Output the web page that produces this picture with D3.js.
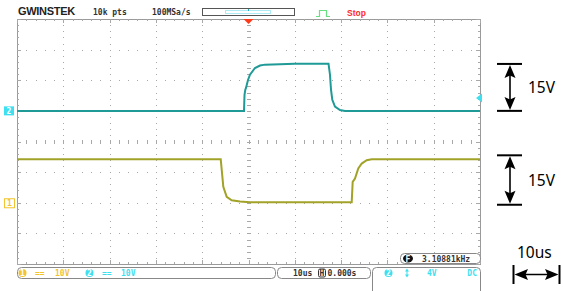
<!DOCTYPE html>
<html><head><meta charset="utf-8">
<script src="https://cdn.jsdelivr.net/npm/d3@7"></script>
<style>body{margin:0;background:#fff}svg{display:block}</style>
</head><body>
<svg id="c" width="563" height="291"></svg>
<script>
// ---- data ----
// time in microseconds (10us/div), voltage in volts (10V/div)
const ch2Time = [-50, -0.97, -0.86, -0.69, -0.54, -0.11, 0.32, 1.40, 2.48, 3.56, 10, 17.28, 17.6, 17.82, 18.1, 18.68, 19.76, 20.84, 50];
const ch2Volt = [0, 0, 5.2, 6.9, 7.5, 10.1, 11.8, 14.0, 14.8, 15.1, 15.4, 15.4, 11.8, 6.9, 3.6, 1.4, 0.3, 0, 0];
const ch1Time = [-50, -6.0, -5.44, -4.71, -3.63, -1.84, 0.32, 22.29, 22.5, 23.0, 23.71, 24.45, 25.53, 26.61, 50];
const ch1Volt = [14.2, 14.2, 5.2, 1.9, 0.8, 0.4, 0.15, 0.15, 6.8, 7.9, 11.2, 12.8, 13.9, 14.2, 14.2];
const timeDomain = [-50, 50];      // 10 div x 10us
const ch1Domain = [-20, 60];       // 8 div x 10V, ground 6 div from top
const ch2Domain = [-50, 30];       // 8 div x 10V, ground 3 div from top
const header = {logo: "GWINSTEK", pts: "10k pts", rate: "100MSa/s", state: "Stop"};
const ch1Label = "10V", ch2Label = "10V", timeLabel = "10us", posLabel = "0.000s";
const trigLabel = "4V", couple = "DC", freqLabel = "3.10881kHz";
const annV = ["15V", "15V"], annT = "10us";
const ch1Span = [0, 15], ch2Span = [0, 15];

// ---- layout ----
const L = 17, R = 480, T = 19, B = 264;
const svg = d3.select("#c");
const x = d3.scaleLinear().domain(timeDomain).range([L, R]);
const y1 = d3.scaleLinear().domain(ch1Domain).range([B, T]);
const y2 = d3.scaleLinear().domain(ch2Domain).range([B, T]);
const mono = "'DejaVu Sans Mono', monospace";
const grid = "#a8a8a8";

// grid dots
const g = svg.append("g");
const xTicks = d3.range(-50, 50.001, 10);
const yTicks = d3.range(-20, 60.001, 10);
const xMinor = d3.range(-50, 50.001, 2);
const yMinor = d3.range(-20, 60.001, 2);
xTicks.slice(1, -1).forEach(t => {
  yMinor.forEach(v => g.append("rect").attr("x", Math.round(x(t))).attr("y", Math.round(y1(v))).attr("width", 1).attr("height", 1).attr("fill", grid));
});
yTicks.slice(1, -1).forEach(v => {
  xMinor.forEach(t => g.append("rect").attr("x", Math.round(x(t))).attr("y", Math.round(y1(v))).attr("width", 1).attr("height", 1).attr("fill", grid));
});
// center cross ticks
yMinor.forEach(v => g.append("line").attr("x1", x(0) - 1.5).attr("x2", x(0) + 2.5).attr("y1", Math.round(y1(v)) + 0.5).attr("y2", Math.round(y1(v)) + 0.5).attr("stroke", grid).attr("stroke-width", 1));
xMinor.forEach(t => g.append("line").attr("y1", y1(20) - 1.5).attr("y2", y1(20) + 2.5).attr("x1", Math.round(x(t)) + 0.5).attr("x2", Math.round(x(t)) + 0.5).attr("stroke", grid).attr("stroke-width", 1));
// border
g.append("rect").attr("x", L + 0.5).attr("y", T + 0.5).attr("width", R - L).attr("height", B - T).attr("fill", "none").attr("stroke", "#9a9a9a");
// border ticks
xMinor.forEach((t, i) => {
  const len = (i % 5 === 0) ? 4 : 2;
  g.append("line").attr("x1", Math.round(x(t)) + 0.5).attr("x2", Math.round(x(t)) + 0.5).attr("y1", T).attr("y2", T + len).attr("stroke", grid);
  g.append("line").attr("x1", Math.round(x(t)) + 0.5).attr("x2", Math.round(x(t)) + 0.5).attr("y1", B - len).attr("y2", B).attr("stroke", grid);
});
yMinor.forEach((v, i) => {
  const len = (i % 5 === 0) ? 4 : 2;
  g.append("line").attr("y1", Math.round(y1(v)) + 0.5).attr("y2", Math.round(y1(v)) + 0.5).attr("x1", L).attr("x2", L + len).attr("stroke", grid);
  g.append("line").attr("y1", Math.round(y1(v)) + 0.5).attr("y2", Math.round(y1(v)) + 0.5).attr("x1", R - len).attr("x2", R).attr("stroke", grid);
});

// traces
const line1 = d3.line().x((d, i) => x(ch1Time[i])).y((d, i) => y1(ch1Volt[i]));
const line2 = d3.line().x((d, i) => x(ch2Time[i])).y((d, i) => y2(ch2Volt[i]));
svg.append("path").attr("d", line2(ch2Time)).attr("fill", "none").attr("stroke", "#1f9a96").attr("stroke-width", 2);
svg.append("path").attr("d", line1(ch1Time)).attr("fill", "none").attr("stroke", "#a2a228").attr("stroke-width", 2);

// channel markers
const m2 = svg.append("g");
m2.append("rect").attr("x", 4).attr("y", y2(0) - 4.5).attr("width", 10).attr("height", 9).attr("fill", "#3ee0f0");
m2.append("text").attr("x", 9).attr("y", y2(0) + 3).attr("text-anchor", "middle").attr("font-family", mono).attr("font-size", 8).attr("font-weight", "bold").attr("fill", "#fff").text("2");
const m1 = svg.append("g");
m1.append("rect").attr("x", 4.5).attr("y", y1(0) - 4).attr("width", 10).attr("height", 9).attr("fill", "none").attr("stroke", "#f2c432");
m1.append("text").attr("x", 9.5).attr("y", y1(0) + 3.5).attr("text-anchor", "middle").attr("font-family", mono).attr("font-size", 8).attr("font-weight", "bold").attr("fill", "#f2c432").text("1");
// trigger level marker
svg.append("path").attr("d", `M${R - 4},98 L${R + 2},93.5 L${R + 2},102.5 Z`).attr("fill", "#3ee0f0");
// red trigger position
svg.append("path").attr("d", `M${x(0) - 5},${T} L${x(0) + 5},${T} L${x(0)},${T + 5} Z`).attr("fill", "#ff3a1a");

// header
svg.append("text").attr("x", 18).attr("y", 15).attr("font-family", "'Liberation Sans', Arial").attr("font-weight", "bold").attr("font-size", 11).attr("letter-spacing", -0.3).attr("fill", "#222").text(header.logo);
svg.append("text").attr("x", 93).attr("y", 15).attr("font-family", mono).attr("font-weight", "bold").attr("font-size", 8).attr("fill", "#333").text(header.pts);
svg.append("text").attr("x", 152).attr("y", 15).attr("font-family", mono).attr("font-weight", "bold").attr("font-size", 8).attr("fill", "#333").text(header.rate);
svg.append("rect").attr("x", 202.5).attr("y", 8.5).attr("width", 92).attr("height", 7).attr("fill", "#fff").attr("stroke", "#555");
svg.append("rect").attr("x", 225.5).attr("y", 10.5).attr("width", 45).attr("height", 3).attr("fill", "none").attr("stroke", "#5ad8e8").attr("stroke-dasharray", "1,1");
svg.append("line").attr("x1", 248.5).attr("x2", 248.5).attr("y1", 9).attr("y2", 11).attr("stroke", "#20b0c0");
svg.append("path").attr("d", "M316,16.5 H319.5 V10.5 H326.5 V16.5 H330").attr("fill", "none").attr("stroke", "#66e080").attr("stroke-width", 1.2);
svg.append("text").attr("x", 347).attr("y", 15.5).attr("font-family", "'Liberation Sans', Arial").attr("font-weight", "bold").attr("font-size", 8.5).attr("fill", "#ff2a2a").text(header.state);

// bottom panel
const bp = svg.append("g");
bp.append("rect").attr("x", 17.5).attr("y", 267.5).attr("width", 258).attr("height", 11).attr("rx", 4).attr("fill", "#fff").attr("stroke", "#888");
bp.append("rect").attr("x", 277.5).attr("y", 267.5).attr("width", 93).attr("height", 11).attr("rx", 4).attr("fill", "#fff").attr("stroke", "#888");
bp.append("rect").attr("x", 372.5).attr("y", 267.5).attr("width", 108).attr("height", 30).attr("rx", 4).attr("fill", "#fff").attr("stroke", "#888");
bp.append("rect").attr("x", 400.5).attr("y", 253.5).attr("width", 80).attr("height", 10).attr("rx", 4).attr("fill", "#fff").attr("stroke", "#888");
const tx = (xx, yy, s, c, anchor) => bp.append("text").attr("x", xx).attr("y", yy).attr("font-family", mono).attr("font-weight", "bold").attr("font-size", 8).attr("fill", c).attr("text-anchor", anchor || "start").text(s);
bp.append("circle").attr("cx", 22.5).attr("cy", 273).attr("r", 4).attr("fill", "#f2c432");
tx(22.5, 276, "1", "#fff", "middle");
tx(35, 276, "==", "#f2c432"); tx(55, 276, ch1Label, "#f2c432");
bp.append("circle").attr("cx", 89.5).attr("cy", 273).attr("r", 4).attr("fill", "#3ee0f0");
tx(89.5, 276, "2", "#fff", "middle");
tx(102, 276, "==", "#3ee0f0"); tx(121, 276, ch2Label, "#3ee0f0");
tx(293, 276, timeLabel, "#333");
bp.append("rect").attr("x", 318.5).attr("y", 269).attr("width", 7).attr("height", 8).attr("rx", 1.5).attr("fill", "#fff").attr("stroke", "#333");
tx(322, 276, "H", "#333", "middle");
tx(327.5, 276, posLabel, "#333");
bp.append("circle").attr("cx", 388.5).attr("cy", 273).attr("r", 4).attr("fill", "#3ee0f0");
tx(388.5, 276, "2", "#fff", "middle");
bp.append("path").attr("d", "M407,268.5 L405,271.5 H409 Z M407,277.5 L405,274.5 H409 Z").attr("fill", "#3ee0f0");
bp.append("line").attr("x1", 407).attr("x2", 407).attr("y1", 270).attr("y2", 276).attr("stroke", "#3ee0f0");
tx(427, 276, trigLabel, "#3ee0f0");
tx(477, 276, couple, "#3ee0f0", "end");
bp.append("ellipse").attr("cx", 408).attr("cy", 258.5).attr("rx", 5).attr("ry", 4).attr("fill", "#111");
tx(408, 261.5, "F", "#fff", "middle");
tx(422, 261.5, freqLabel, "#333");

// annotations
const an = svg.append("g").attr("fill", "#000");
const vArrow = (yTop, yBot, label) => {
  an.append("line").attr("x1", 497).attr("x2", 522).attr("y1", yTop).attr("y2", yTop).attr("stroke", "#000").attr("stroke-width", 2);
  an.append("line").attr("x1", 497).attr("x2", 522).attr("y1", yBot).attr("y2", yBot).attr("stroke", "#000").attr("stroke-width", 2);
  an.append("line").attr("x1", 510).attr("x2", 510).attr("y1", yTop + 6).attr("y2", yBot - 6).attr("stroke", "#000").attr("stroke-width", 1.6);
  an.append("path").attr("d", `M510,${yTop + 1} L504.5,${yTop + 14} L510,${yTop + 11.5} L515.5,${yTop + 14} Z`);
  an.append("path").attr("d", `M510,${yBot - 1} L504.5,${yBot - 14} L510,${yBot - 11.5} L515.5,${yBot - 14} Z`);
  an.append("text").attr("x", 528).attr("y", (yTop + yBot) / 2 + 5.5).attr("font-family", "'Noto Sans', 'Open Sans', sans-serif").attr("font-size", 15.5).text(label);
};
vArrow(y2(ch2Span[1]) - 1, y2(ch2Span[0]), annV[0]);
vArrow(y1(ch1Span[1]) - 1.5, y1(ch1Span[0]) + 2, annV[1]);
an.append("line").attr("x1", 513.5).attr("x2", 513.5).attr("y1", 265).attr("y2", 284).attr("stroke", "#000").attr("stroke-width", 2);
an.append("line").attr("x1", 559.5).attr("x2", 559.5).attr("y1", 265).attr("y2", 284).attr("stroke", "#000").attr("stroke-width", 2);
an.append("line").attr("x1", 520).attr("x2", 553).attr("y1", 274.5).attr("y2", 274.5).attr("stroke", "#000").attr("stroke-width", 1.6);
an.append("path").attr("d", "M514.5,274.5 L528,269 L525.5,274.5 L528,280 Z");
an.append("path").attr("d", "M558.5,274.5 L545,269 L547.5,274.5 L545,280 Z");
an.append("text").attr("x", 517).attr("y", 258).attr("font-family", "'Noto Sans', 'Open Sans', sans-serif").attr("font-size", 15.5).text(annT);
</script>
</body></html>
